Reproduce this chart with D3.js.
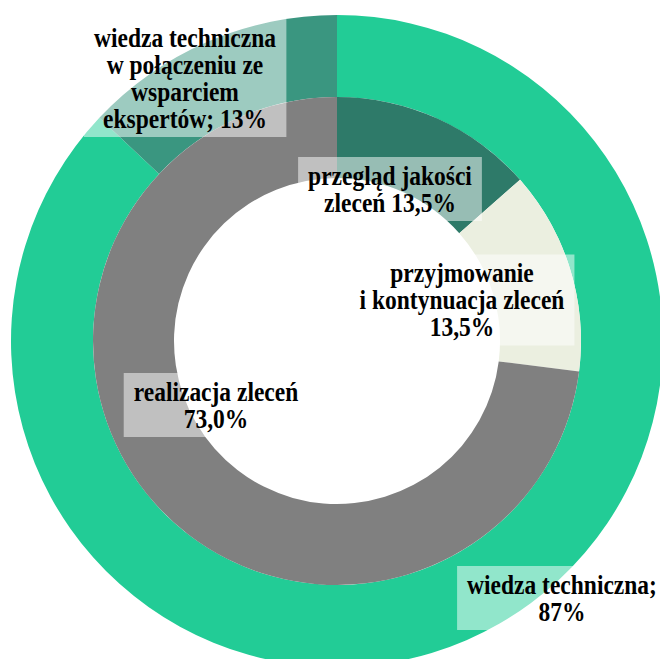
<!DOCTYPE html>
<html>
<head>
<meta charset="utf-8">
<script src="https://cdn.jsdelivr.net/npm/d3@7"></script>
<style>
    body { margin: 0; background: #fff; }
</style>
</head>
<body>
<div id="chart"></div>
<script>
// outer ring
let outerNames = ["wiedza techniczna", "wiedza techniczna w połączeniu ze wsparciem ekspertów"];
let outerValues = [87, 13];
let outerLines = [["wiedza techniczna;", "{v}"], ["wiedza techniczna", "w połączeniu ze", "wsparciem", "ekspertów; {v}"]];

// inner ring
let innerNames = ["przegląd jakości zleceń", "przyjmowanie i kontynuacja zleceń", "realizacja zleceń"];
let innerValues = [13.5, 13.5, 73.0];
let innerLines = [["przegląd jakości", "zleceń {v}"], ["przyjmowanie", "i kontynuacja zleceń", "{v}"], ["realizacja zleceń", "{v}"]];

let outerColors = ["#22CC96", "#3A9680"];
let innerColors = ["#2E7A69", "#EBEFE0", "#808080"];

// label centers (layout only)
let outerLabelPos = [[562, 598], [185, 78]];
let innerLabelPos = [[390, 189], [462, 300], [216, 405]];

let width = 660, height = 659;
let cx = 337, cy = 341;
let rOuter = 326, rMid = 244, rHole = 163;
let fontSize = 23.5, lineH = 27, padX = 10, padY = 5;
let stretchY = 1.14;   // glyphs in the original look taller than wide

let svg = d3.select("#chart").append("svg")
    .attr("width", width)
    .attr("height", height);

let g = svg.append("g")
    .attr("transform", `translate(${cx},${cy})`);

let pie = d3.pie().sort(null).value(d => d);

let outerArc = d3.arc().innerRadius(rMid).outerRadius(rOuter);
let innerArc = d3.arc().innerRadius(rHole).outerRadius(rMid);

g.selectAll(".outer")
    .data(pie(outerValues))
    .enter()
    .append("path")
    .attr("class", "outer")
    .attr("d", outerArc)
    .attr("fill", (d, i) => outerColors[i]);

g.selectAll(".inner")
    .data(pie(innerValues))
    .enter()
    .append("path")
    .attr("class", "inner")
    .attr("d", innerArc)
    .attr("fill", (d, i) => innerColors[i]);

let fmtInt = d3.format(".0f");
let fmtDec = v => d3.format(".1f")(v).replace(".", ",");

let labels = [];
innerValues.forEach((v, i) => labels.push({lines: innerLines[i].map(l => l.replace("{v}", fmtDec(v) + "%")), pos: innerLabelPos[i]}));
outerValues.forEach((v, i) => labels.push({lines: outerLines[i].map(l => l.replace("{v}", fmtInt(v) + "%")), pos: outerLabelPos[i]}));

labels.forEach(lab => {
    let lg = svg.append("g");
    let box = lg.append("rect")
        .attr("fill", "#fff")
        .attr("fill-opacity", 0.5);
    let n = lab.lines.length;
    let text = lg.append("text")
        .attr("text-anchor", "middle")
        .attr("fill", "#000")
        .attr("transform", `translate(${lab.pos[0]},${lab.pos[1]}) scale(1,${stretchY})`)
        .style("font-family", "'Liberation Serif', 'Times New Roman', serif")
        .style("font-weight", "bold")
        .style("font-size", fontSize + "px");
    lab.lines.forEach((l, k) => {
        text.append("tspan")
            .attr("x", 0)
            .attr("y", (k - (n - 1) / 2) * lineH / stretchY)
            .attr("dy", "0.35em")
            .text(l);
    });
    let bb = text.node().getBBox();
    let h = n * lineH + 2 * padY;
    box.attr("x", lab.pos[0] + bb.x - padX)
        .attr("y", lab.pos[1] - h / 2)
        .attr("width", bb.width + 2 * padX)
        .attr("height", h);
});
</script>
</body>
</html>
